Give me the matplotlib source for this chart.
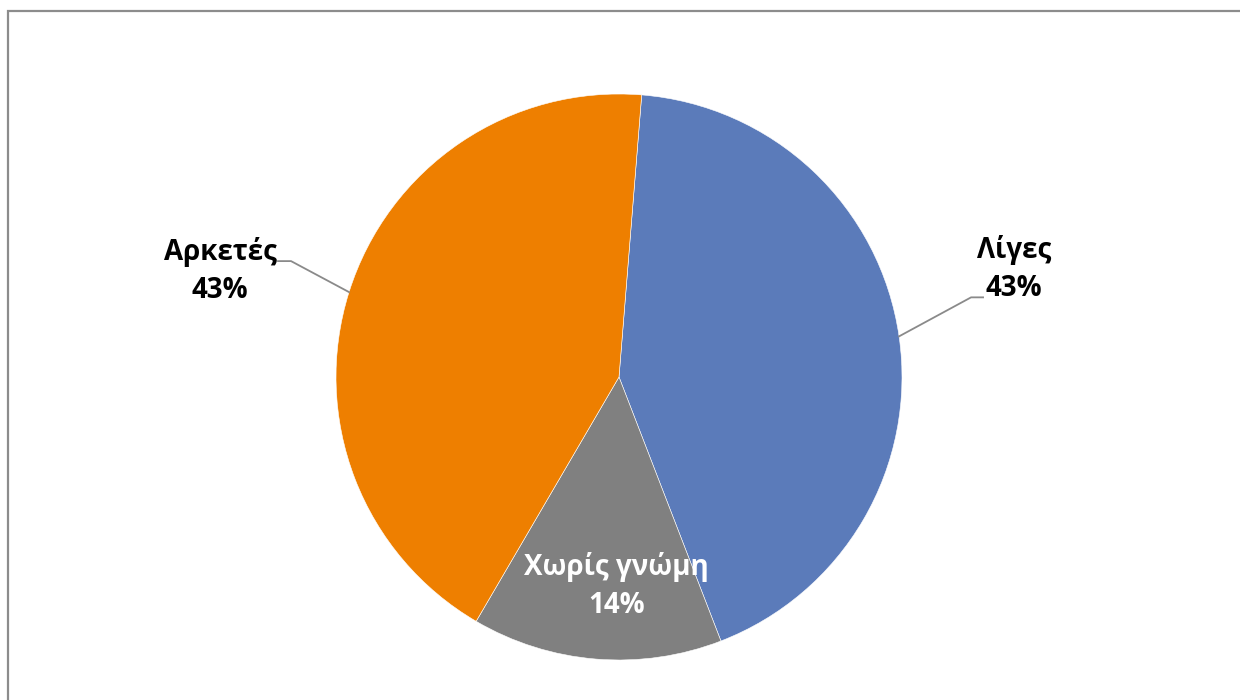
import numpy as np
import matplotlib.pyplot as plt
from matplotlib.patches import Rectangle

# Pie data
labels = ['Λίγες', 'Χωρίς γνώμη', 'Αρκετές']
values = [3, 1, 3]
colors = ['#5B7BBA', '#808080', '#EE7F00']

plt.rcParams['font.family'] = ['Open Sans', 'DejaVu Sans']

fig = plt.figure(figsize=(12.4, 7), dpi=100)
ax = fig.add_axes([0, 0, 1, 1])

# pie drawn in pixel-like data units so it sits where the original does
cx, cy, r = 619, 700 - 377, 283
wedges, _ = ax.pie(values, colors=colors, startangle=85.4, counterclock=False,
                   center=(cx, cy), radius=r,
                   wedgeprops=dict(edgecolor='white', linewidth=0.4))
ax.set_xlim(0, 1240)
ax.set_ylim(0, 700)
ax.set_aspect('equal')
ax.axis('off')

total = sum(values)
pcts = [v / total * 100 for v in values]

line_kw = dict(color='#8a8a8a', lw=1.3)
text_kw = dict(ha='center', va='center', fontsize=20, fontweight='bold', linespacing=1.4)

for w, lab, p in zip(wedges, labels, pcts):
    mid = np.deg2rad((w.theta1 + w.theta2) / 2)
    ex, ey = cx + r * np.cos(mid), cy + r * np.sin(mid)
    txt = f'{lab}\n{p:.0f}%'
    if lab == 'Χωρίς γνώμη':
        ax.text(cx + 0.74 * r * np.cos(mid) + 14, cy + 0.74 * r * np.sin(mid),
                txt, color='white', **text_kw)
    elif lab == 'Λίγες':
        # leader: pie edge -> elbow -> short horizontal into label
        kx, ky = ex + 72, ey + 39
        ax.plot([ex, kx, kx + 12], [ey, ky, ky], **line_kw)
        ax.text(kx + 43, ky + 28, txt, color='black', **text_kw)
    else:
        kx, ky = ex - 58, ey + 31
        ax.plot([ex, kx, kx - 13], [ey, ky, ky], **line_kw)
        ax.text(kx - 71, ky - 10, txt, color='black', **text_kw)

# chart-area border (runs off the right and bottom edges)
fig.patches.append(Rectangle((7.5 / 1240, -0.1), 1.2, (700 - 10.5) / 700 + 0.1,
                             transform=fig.transFigure, fill=False,
                             ec='#8c8c8c', lw=1.6))

fig.savefig('out.png', dpi=100, facecolor='white')
